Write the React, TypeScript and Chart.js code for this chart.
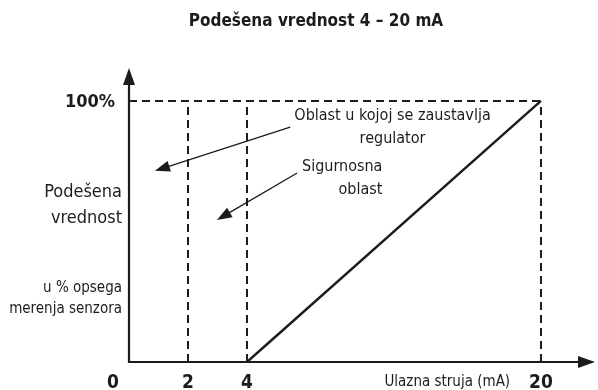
import React, { useEffect, useRef } from 'react';
import { Chart, LinearScale, registerables } from 'chart.js';

// ---------- data ----------
const TITLE = 'Podešena vrednost 4 – 20 mA';
const X_TICKS = [0, 2, 4, 20];
const X_TICK_LABELS = ['0', '2', '4', '20'];
const Y_TICKS = [100];
const Y_TICK_LABELS = ['100%'];
const X_AXIS_TITLE = 'Ulazna struja (mA)';
const Y_TITLE_MAIN = ['Podešena', 'vrednost'];
const Y_TITLE_SUB = ['u % opsega', 'merenja senzora'];

const RAMP_X = [4, 20];
const RAMP_Y = [0, 100];
const FULL_X = [0, 20];
const FULL_Y = [100, 100];
const GUIDE_X = [2, 4, 20];
const GUIDE_Y = [0, 98.8];

const NOTE_STOP = ['Oblast u kojoj se zaustavlja', 'regulator'];
const NOTE_SAFE = ['Sigurnosna', 'oblast'];
const STOP_ARROW_X = [6.35, 0.88];
const STOP_ARROW_Y = [90, 73.2];
const SAFE_ARROW_X = [6.73, 2.98];
const SAFE_ARROW_Y = [72.4, 54.4];

const X_MIN = 0;
const X_MAX = 22.94;
const Y_MIN = 0;
const Y_MAX = 112.6;

// piecewise (schematic) x scale: the 0–4 mA part is drawn wider
const X_KNOTS = [0, 4, X_MAX];
const X_KNOT_FRACTIONS = [0, 0.2532, 1];

const INK = '#1c1c1c';
const FONT = '"Liberation Sans Narrow", "DejaVu Sans Condensed", "Liberation Sans", sans-serif';

class PiecewiseScale extends LinearScale {
  static id = 'piecewise';
  static defaults = {};
  toDecimal(v: number) {
    for (let i = 1; i < X_KNOTS.length; i++) {
      if (v <= X_KNOTS[i] || i === X_KNOTS.length - 1) {
        const t = (v - X_KNOTS[i - 1]) / (X_KNOTS[i] - X_KNOTS[i - 1]);
        return X_KNOT_FRACTIONS[i - 1] + t * (X_KNOT_FRACTIONS[i] - X_KNOT_FRACTIONS[i - 1]);
      }
    }
    return 0;
  }
  getPixelForValue(value: number) {
    return this.getPixelForDecimal(this.toDecimal(value));
  }
  getValueForPixel(pixel: number) {
    const d = this.getDecimalForPixel(pixel);
    for (let i = 1; i < X_KNOTS.length; i++) {
      if (d <= X_KNOT_FRACTIONS[i] || i === X_KNOTS.length - 1) {
        const t = (d - X_KNOT_FRACTIONS[i - 1]) / (X_KNOT_FRACTIONS[i] - X_KNOT_FRACTIONS[i - 1]);
        return X_KNOTS[i - 1] + t * (X_KNOTS[i] - X_KNOTS[i - 1]);
      }
    }
    return 0;
  }
}

Chart.register(...registerables, PiecewiseScale as any);

const zip = (xs: number[], ys: number[]) => xs.map((x, i) => ({ x, y: ys[i] }));

function arrow(ctx: CanvasRenderingContext2D, x1: number, y1: number, x2: number, y2: number, len: number, half: number, lw: number) {
  const dx = x2 - x1, dy = y2 - y1;
  const L = Math.hypot(dx, dy);
  const ux = dx / L, uy = dy / L;
  const bx = x2 - ux * len, by = y2 - uy * len;
  ctx.lineWidth = lw;
  ctx.beginPath();
  ctx.moveTo(x1, y1);
  ctx.lineTo(bx + ux * 2, by + uy * 2);
  ctx.stroke();
  ctx.beginPath();
  ctx.moveTo(x2, y2);
  ctx.lineTo(bx - uy * half, by + ux * half);
  ctx.lineTo(bx + uy * half, by - ux * half);
  ctx.closePath();
  ctx.fill();
}

const overlay = {
  id: 'overlay',
  afterDatasetsDraw(chart: any) {
    const { ctx, scales } = chart;
    const xs = scales.x, ys = scales.y;
    const x0 = xs.getPixelForValue(0);
    const y0 = ys.getPixelForValue(0);
    ctx.save();
    ctx.strokeStyle = INK;
    ctx.fillStyle = INK;
    ctx.lineCap = 'butt';
    // axes with arrowheads
    arrow(ctx, x0 - 1, y0, xs.right, y0, 17, 6, 2.2);
    arrow(ctx, x0, y0 + 1, x0, ys.top, 17, 6, 2.2);
    // annotation arrows
    arrow(ctx, xs.getPixelForValue(STOP_ARROW_X[0]), ys.getPixelForValue(STOP_ARROW_Y[0]),
      xs.getPixelForValue(STOP_ARROW_X[1]), ys.getPixelForValue(STOP_ARROW_Y[1]), 15, 5.5, 1.3);
    arrow(ctx, xs.getPixelForValue(SAFE_ARROW_X[0]), ys.getPixelForValue(SAFE_ARROW_Y[0]),
      xs.getPixelForValue(SAFE_ARROW_X[1]), ys.getPixelForValue(SAFE_ARROW_Y[1]), 15, 5.5, 1.3);

    ctx.textBaseline = 'middle';
    // title
    ctx.font = `bold 17px ${FONT}`;
    ctx.textAlign = 'center';
    ctx.fillText(TITLE, 316, 22);
    // x tick labels
    ctx.font = `bold 19px ${FONT}`;
    X_TICKS.forEach((v, i) => {
      const shift = v === 0 ? -16 : 0;
      ctx.fillText(X_TICK_LABELS[i], xs.getPixelForValue(v) + shift, y0 + 21);
    });
    // y tick labels
    ctx.font = `bold 18px ${FONT}`;
    ctx.textAlign = 'right';
    Y_TICKS.forEach((v, i) => {
      ctx.fillText(Y_TICK_LABELS[i], x0 - 14, ys.getPixelForValue(v) + 1);
    });
    // x axis title
    ctx.font = `15px ${FONT}`;
    ctx.textAlign = 'center';
    ctx.fillText(X_AXIS_TITLE, xs.getPixelForValue(14.9), y0 + 20);
    // y axis titles
    ctx.textAlign = 'right';
    ctx.font = `18px ${FONT}`;
    ctx.fillText(Y_TITLE_MAIN[0], x0 - 7, ys.getPixelForValue(65.1));
    ctx.fillText(Y_TITLE_MAIN[1], x0 - 7, ys.getPixelForValue(55.2));
    ctx.font = `15px ${FONT}`;
    ctx.fillText(Y_TITLE_SUB[0], x0 - 7, ys.getPixelForValue(28.4));
    ctx.fillText(Y_TITLE_SUB[1], x0 - 7, ys.getPixelForValue(20.3));
    // notes
    ctx.font = `16px ${FONT}`;
    ctx.textAlign = 'center';
    ctx.fillText(NOTE_STOP[0], xs.getPixelForValue(11.92), ys.getPixelForValue(94.3));
    ctx.fillText(NOTE_STOP[1], xs.getPixelForValue(11.92), ys.getPixelForValue(85.4));
    ctx.textAlign = 'right';
    ctx.fillText(NOTE_SAFE[0], xs.getPixelForValue(11.37), ys.getPixelForValue(74.7));
    ctx.fillText(NOTE_SAFE[1], xs.getPixelForValue(11.37), ys.getPixelForValue(65.9));
    ctx.restore();
  },
};

export default function App() {
  const ref = useRef<HTMLCanvasElement>(null);
  useEffect(() => {
    document.body.style.margin = '0';
    const dashed = { borderColor: INK, borderWidth: 2, borderDash: [8, 5], pointRadius: 0, clip: false as any, fill: false };
    const datasets: any[] = [
      { label: 'ramp', data: zip(RAMP_X, RAMP_Y), borderColor: INK, borderWidth: 2.4, pointRadius: 0, clip: false, fill: false },
      { label: 'full', data: zip(FULL_X, FULL_Y), ...dashed },
      ...GUIDE_X.map((gx) => ({ label: `g${gx}`, data: zip([gx, gx], GUIDE_Y), ...dashed })),
    ];
    const chart = new Chart(ref.current!, {
      type: 'line',
      data: { datasets },
      options: {
        animation: false,
        responsive: false,
        devicePixelRatio: 1,
        layout: { padding: { left: 129, right: 3, top: 68, bottom: 28 } },
        plugins: { legend: { display: false }, tooltip: { enabled: false }, title: { display: false } },
        scales: {
          x: { type: 'piecewise' as any, min: X_MIN, max: X_MAX, display: false },
          y: { type: 'linear', min: Y_MIN, max: Y_MAX, display: false },
        },
      },
      plugins: [overlay],
    });
    return () => chart.destroy();
  }, []);
  return (
    <div style={{ width: 598, height: 390 }}>
      <canvas ref={ref} width={598} height={390} style={{ display: 'block' }} />
    </div>
  );
}
